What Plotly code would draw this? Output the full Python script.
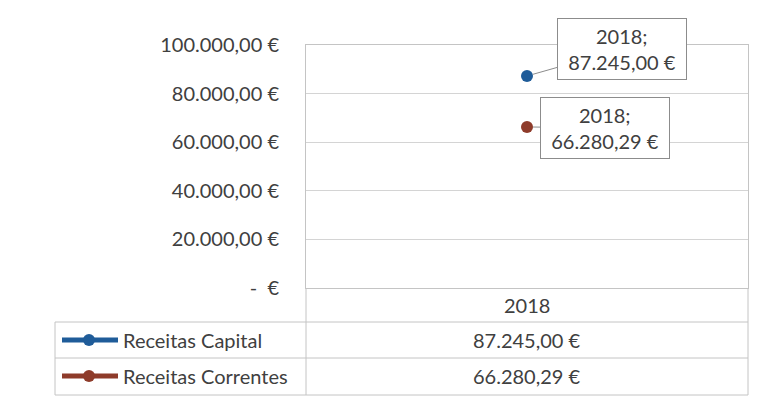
import plotly.graph_objects as go

# dados
anos = ["2018"]
receitas_capital = [87245.00]
receitas_correntes = [66280.29]
series_nomes = ["Receitas Capital", "Receitas Correntes"]
series_valores = [receitas_capital, receitas_correntes]
cores = ["#1f5c99", "#8e3b2a"]
y_ticks = [0, 20000, 40000, 60000, 80000, 100000]
y_tick_labels = ["-  €", "20.000,00 €", "40.000,00 €", "60.000,00 €", "80.000,00 €", "100.000,00 €"]


def eur(v):
    s = f"{v:,.2f}".replace(",", "X").replace(".", ",").replace("X", ".")
    return s + " €"


# a página tem 8px de margem no body
OFF = 8
W, H = 767 - OFF, 407 - OFF
L, R, T, B = 306 - OFF, 748 - OFF, 45 - OFF, 288 - OFF


def px(x):
    return (x - OFF - L) / (R - L)


def py(y):
    return (B - (y - OFF)) / (B - T)


FONT = "Lato"
TXT = "#404040"
GRID = "#d4d4d4"
LINE = "#c4c4c4"
FS = 20

fig = go.Figure()
for nome, vals, cor in zip(series_nomes, series_valores, cores):
    fig.add_trace(go.Scatter(x=anos, y=vals, name=nome, mode="lines+markers",
                             line=dict(color=cor, width=3),
                             marker=dict(color=cor, size=12), showlegend=False))

# callouts
offsets = [(95, -27), (78, 1)]
for i, (nome, vals, cor, (ax, ay)) in enumerate(zip(series_nomes, series_valores, cores, offsets)):
    fig.add_annotation(x=0, y=vals[0], xref="x", yref="y",
                       text=f"{anos[0]};<br>{eur(vals[0])}",
                       showarrow=True, arrowhead=0, arrowwidth=1, arrowcolor="#8c8c8c",
                       ax=ax, ay=ay, standoff=6,
                       bgcolor="white", bordercolor="#8c8c8c", borderwidth=1, borderpad=5,
                       width=118, align="center",
                       font=dict(family=FONT, size=FS, color=TXT))

# tabela de dados
shapes = []


def hline(y, x0, x1):
    shapes.append(dict(type="line", xref="paper", yref="paper", x0=px(x0), x1=px(x1),
                       y0=py(y), y1=py(y), line=dict(color=LINE, width=1)))


def vline(x, y0, y1):
    shapes.append(dict(type="line", xref="paper", yref="paper", x0=px(x), x1=px(x),
                       y0=py(y0), y1=py(y1), line=dict(color=LINE, width=1)))


hline(322, 55, 748)
hline(358, 55, 748)
hline(395, 55, 748)
vline(306, 288, 395)
vline(748, 288, 395)
vline(55, 322, 395)

fig.add_annotation(x=px(527), y=py(305), xref="paper", yref="paper", text=anos[0],
                   yanchor="middle", showarrow=False, font=dict(family=FONT, size=FS, color=TXT))

row_y = [340, 376]
for nome, vals, cor, yy in zip(series_nomes, series_valores, cores, row_y):
    shapes.append(dict(type="line", xref="paper", yref="paper", x0=px(62), x1=px(118),
                       y0=py(yy), y1=py(yy), line=dict(color=cor, width=5)))
    shapes.append(dict(type="circle", xref="paper", yref="paper", x0=px(83), x1=px(95),
                       y0=py(yy + 6), y1=py(yy - 6), fillcolor=cor, line=dict(color=cor, width=0)))
    fig.add_annotation(x=px(121), y=py(yy), xref="paper", yref="paper", text=nome,
                       xanchor="left", yanchor="middle", showarrow=False,
                       font=dict(family=FONT, size=FS, color=TXT))
    fig.add_annotation(x=px(527), y=py(yy), xref="paper", yref="paper", text=eur(vals[0]),
                       yanchor="middle", showarrow=False, font=dict(family=FONT, size=FS, color=TXT))

fig.update_layout(
    width=W, height=H,
    margin=dict(l=L, r=W - R, t=T, b=H - B, pad=0),
    paper_bgcolor="white", plot_bgcolor="white",
    shapes=shapes,
    font=dict(family=FONT, size=FS, color=TXT),
    xaxis=dict(type="category", range=[-0.5, 0.5], showticklabels=False, showgrid=False,
               showline=True, linecolor=LINE, mirror=True, zeroline=False),
    yaxis=dict(range=[0, 100000], tickvals=y_ticks, ticktext=y_tick_labels,
               showgrid=True, gridcolor=GRID, gridwidth=1, zeroline=False,
               showline=True, linecolor=LINE, mirror=True,
               ticks="", ticklabelstandoff=22,
               tickfont=dict(family=FONT, size=FS, color=TXT)),
)

fig.write_html("out.html")
